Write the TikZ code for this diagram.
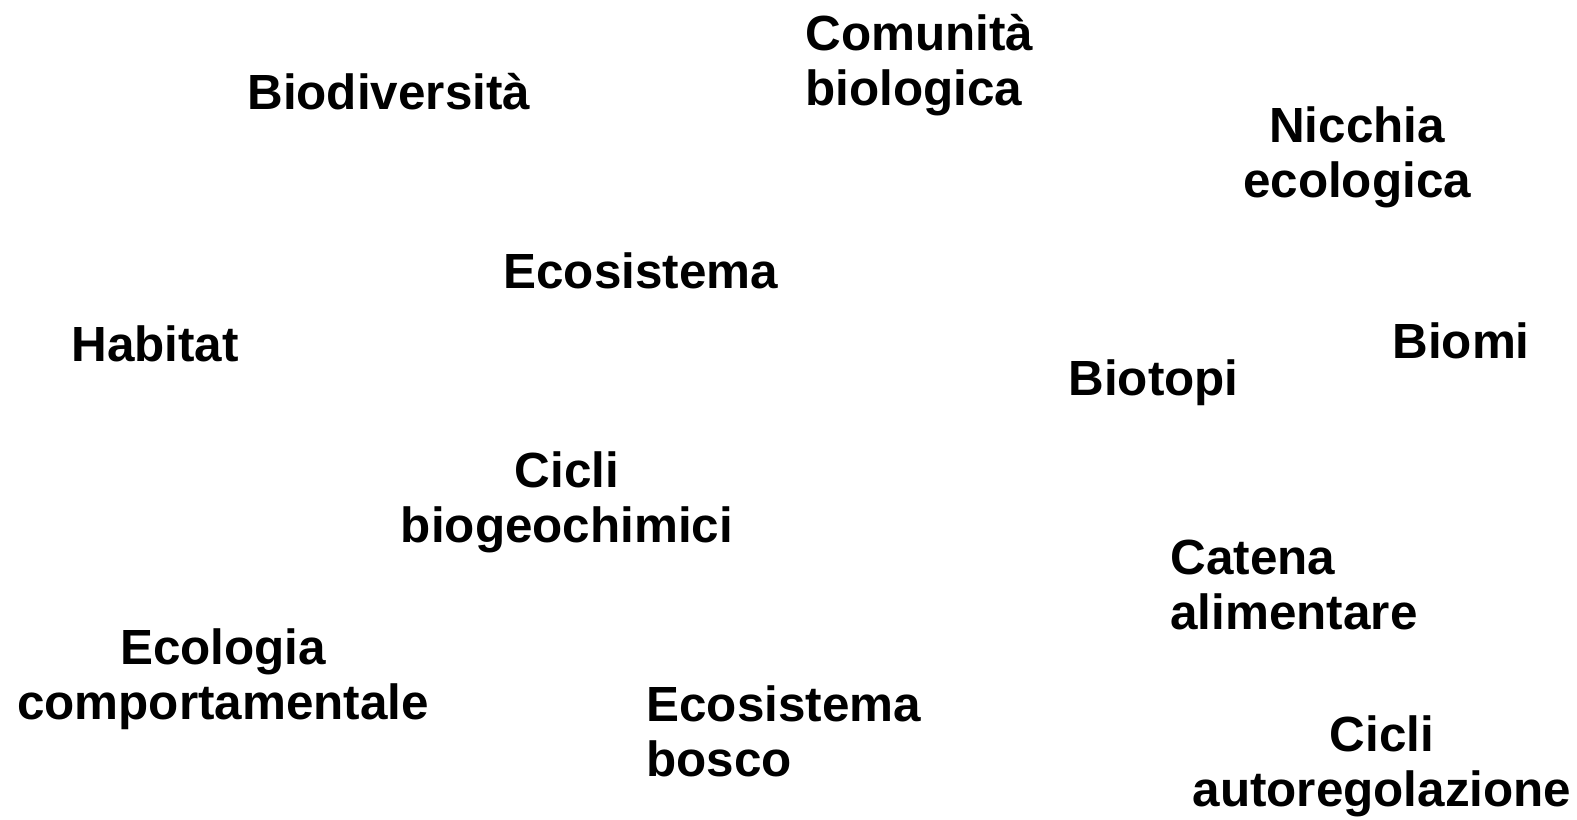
\documentclass[tikz,border=0pt]{standalone}
\usepackage{fontspec}
\setmainfont{Liberation Sans}
\usepackage{tikz}

\begin{document}
\begin{tikzpicture}[x=0.5pt,y=-0.5pt,inner sep=0pt,
        term/.style={font=\fontsize{24.7}{27.5}\selectfont\bfseries},
        termL/.style={term,align=left,anchor=base west},
        termC/.style={term,align=center,anchor=base}]
        \useasboundingbox (0,0) rectangle (1577,819);

        % multi-line terms are placed at the baseline of their last line
        \node[termL] (comunita) at (805,105) {Comunità\\biologica};
        \node[termL] (biodiv) at (247,109) {Biodiversità};
        \node[termC] (nicchia) at (1357,197) {Nicchia\\ecologica};
        \node[termL] (ecosist) at (503,288) {Ecosistema};
        \node[termL] (habitat) at (71,361) {Habitat};
        \node[termL] (biomi) at (1392,358) {Biomi};
        \node[termL] (biotopi) at (1068,395) {Biotopi};
        \node[termC] (cicli) at (567,542) {Cicli\\biogeochimici};
        \node[termL] (catena) at (1170,629) {Catena\\alimentare};
        \node[termC] (ecolog) at (223,719) {Ecologia\\comportamentale};
        \node[termL] (bosco) at (646,776) {Ecosistema\\bosco};
        \node[termC] (autoreg) at (1382,806) {Cicli\\autoregolazione};
    \end{tikzpicture}
\end{document}
